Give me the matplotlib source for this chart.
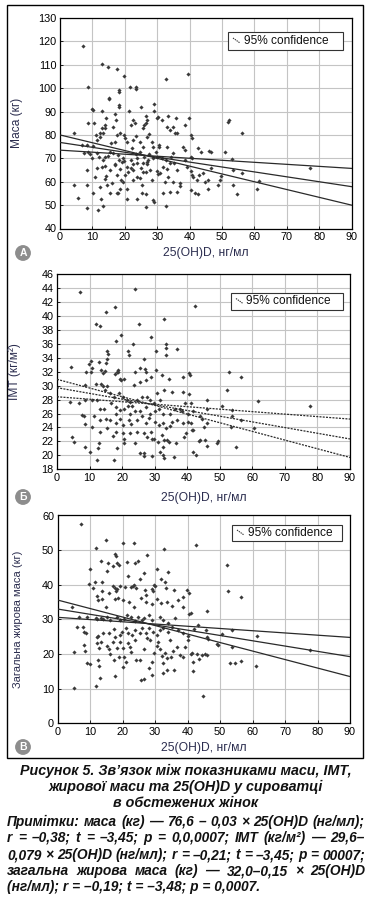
import matplotlib
matplotlib.use("Agg")
import matplotlib.pyplot as plt
from matplotlib.patches import Rectangle, Ellipse
from matplotlib.lines import Line2D

plt.rcParams['font.family'] = ['Liberation Sans', 'DejaVu Sans']

W, H = 372, 901

# ---------------- data ----------------
x_ticks = [0, 10, 20, 30, 40, 50, 60, 70, 80, 90]
yticks_A = list(range(40, 131, 10))
yticks_B = list(range(18, 47, 2))
yticks_C = list(range(0, 61, 10))

line_x = [0, 90]

# Panel A: mass (kg)
A_x = [7.0, 12.9, 14.7, 17.5, 19.9, 8.7, 21.6, 23.5, 23.4, 18.1, 18.3, 15.0, 15.2, 39.6, 32.6,
       10.0, 10.3, 13.0, 18.3, 18.3, 21.4, 29.0, 29.0, 25.0, 8.7, 10.6, 14.2, 17.0, 17.3, 16.5,
       14.0, 13.4, 12.3, 11.3, 8.4, 4.3, 6.7, 10.1, 11.1, 22.4, 23.1, 21.9, 25.5, 26.0, 26.7,
       27.0, 26.4, 29.8, 30.3, 31.4, 33.2, 35.8, 32.9, 35.0, 34.0, 36.0, 35.5, 38.6, 39.9, 40.6,
       40.8, 38.0, 38.6, 52.0, 52.3, 56.3, 40.3, 40.9, 42.7, 43.5, 46.0, 46.5, 50.9, 53.2, 38.6,
       39.1, 40.5, 40.8, 41.0, 43.0, 44.2, 46.5, 44.8, 45.8, 48.9, 49.4, 49.6, 53.3, 56.3, 53.3,
       54.7, 61.4, 60.7, 77.2, 42.2, 40.6, 41.7, 42.5, 45.8, 37.0, 37.2, 34.8, 33.4, 32.4, 31.9,
       34.0, 36.0, 32.6, 28.8, 29.0, 26.7, 25.2, 26.7, 23.9, 20.6, 20.6, 18.5, 18.0, 16.0, 14.4,
       12.3, 10.8, 10.1, 8.4, 4.3, 5.5, 12.7, 8.4, 11.6, 13.4, 8.4, 11.5, 12.9, 13.4, 14.0,
       12.0, 11.3, 14.0, 14.2, 14.0, 15.4, 17.0, 17.5, 18.5, 18.8, 19.5, 20.1, 20.6, 21.1, 21.8,
       22.4, 22.6, 22.6, 23.7, 25.0, 25.5, 24.7, 25.2, 26.6, 26.8, 27.3, 27.8, 28.3, 30.0, 30.2,
       30.0, 30.7, 30.7, 30.9, 31.9, 32.7, 33.1, 34.0, 34.4, 35.0, 35.2, 36.0, 32.9, 28.8, 28.3,
       27.0, 27.4, 25.5, 24.7, 23.5, 23.7, 22.1, 20.6, 20.2, 19.8, 18.5, 17.5, 17.0, 15.9, 15.4,
       14.9, 16.5, 18.0, 18.3, 19.6, 19.8, 19.0, 17.0, 22.4, 23.5, 24.7, 27.0, 27.6, 28.8, 29.6,
       31.4, 9.8, 7.5, 8.7, 9.3, 12.9, 14.0, 12.3, 25.7, 26.0, 22.0, 23.9, 17.5, 15.4]
A_y = [118.1, 110.4, 109.0, 108.1, 105.0, 100.4, 100.4, 99.6, 100.3, 98.5, 99.4, 96.0, 95.3, 106.1, 104.1,
       91.0, 90.5, 90.3, 92.7, 92.0, 90.4, 93.1, 90.3, 92.0, 85.3, 85.3, 87.1, 89.0, 86.4, 83.6,
       82.9, 81.0, 80.7, 78.0, 75.7, 80.7, 75.7, 75.3, 80.0, 86.4, 85.3, 84.3, 82.9, 84.3, 85.3,
       86.4, 88.0, 87.1, 87.6, 86.4, 87.9, 87.1, 83.3, 83.6, 82.1, 80.7, 80.7, 84.3, 87.1, 80.0,
       78.6, 75.0, 73.6, 85.6, 86.5, 80.7, 70.4, 70.1, 74.6, 72.9, 73.0, 72.6, 72.7, 69.6, 69.3,
       66.4, 64.4, 63.0, 62.0, 62.9, 63.6, 65.7, 60.0, 60.7, 58.6, 60.7, 62.6, 65.0, 63.6, 58.6,
       54.7, 60.4, 56.7, 65.7, 60.7, 56.4, 55.3, 54.7, 56.7, 59.6, 58.0, 60.0, 62.1, 60.0, 55.0,
       55.7, 55.7, 49.6, 52.0, 51.3, 49.3, 55.0, 54.6, 52.4, 52.4, 56.7, 56.7, 55.3, 59.6, 58.6,
       57.9, 62.1, 55.3, 58.6, 58.6, 52.9, 52.4, 48.6, 47.9, 49.7, 65.0, 65.7, 66.4, 69.3, 70.7,
       70.7, 72.4, 66.7, 62.5, 61.3, 65.0, 67.4, 62.9, 65.3, 60.7, 60.0, 62.9, 66.4, 64.3, 69.3,
       67.6, 65.0, 60.7, 62.1, 65.7, 64.3, 61.4, 58.6, 64.3, 67.4, 69.3, 65.0, 60.7, 64.5, 63.4,
       70.7, 75.0, 75.9, 63.6, 66.4, 69.3, 65.3, 67.9, 70.7, 72.1, 67.9, 65.0, 75.0, 75.0, 77.1,
       79.0, 80.4, 75.0, 72.9, 71.7, 70.3, 74.3, 76.9, 78.6, 80.0, 80.7, 80.0, 77.1, 76.4, 72.9,
       71.0, 72.1, 71.5, 69.4, 70.0, 68.9, 68.6, 67.1, 77.9, 79.6, 77.1, 68.6, 71.9, 70.0, 72.9,
       70.0, 70.0, 72.1, 72.9, 71.9, 82.9, 84.3, 79.3, 67.9, 70.7, 66.0, 68.0, 55.0, 55.0]
A_fit = [76.8, 57.9]
A_ci1 = [80.0, 50.0]
A_ci2 = [73.5, 65.7]

# Panel B: BMI (kg/m2)
B_x = [7.2, 24.0, 42.5, 12.1, 13.3, 15.1, 17.7, 25.1, 33.0, 19.7, 28.9, 23.4, 33.4, 33.4, 18.0,
       37.0, 21.7, 22.2, 15.5, 15.7, 10.3, 10.7, 10.5, 15.3, 14.9, 12.9, 30.3, 33.4, 26.6, 4.3,
       9.0, 13.5, 14.7, 14.1, 18.6, 18.7, 17.7, 18.4, 20.7, 19.2, 19.7, 24.0, 25.4, 27.0, 27.3,
       23.5, 25.5, 27.4, 28.8, 30.5, 32.2, 34.4, 38.6, 40.4, 40.9, 52.8, 56.5, 52.2, 61.7, 77.7,
       9.7, 8.6, 11.9, 13.4, 14.2, 14.6, 15.3, 16.4, 17.4, 19.1, 20.4, 21.5, 22.5, 23.0, 21.8,
       24.5, 26.1, 27.6, 28.6, 29.7, 30.7, 31.7, 33.0, 35.3, 38.6, 40.6, 41.1, 39.4, 37.8, 46.0,
       50.6, 53.7, 3.9, 6.7, 8.5, 10.7, 7.7, 8.4, 12.3, 13.3, 14.3, 16.7, 18.2, 19.4, 18.2,
       20.7, 22.5, 24.0, 25.6, 27.3, 28.6, 30.2, 31.4, 32.7, 34.8, 36.3, 38.3, 40.1, 41.9, 44.0,
       46.0, 53.7, 56.5, 8.7, 10.7, 11.5, 13.3, 14.9, 16.4, 18.2, 19.2, 20.4, 22.0, 22.8, 24.5,
       26.1, 27.4, 28.3, 30.2, 31.4, 32.5, 33.4, 34.6, 35.3, 37.0, 38.6, 40.1, 41.1, 44.4, 45.0,
       46.0, 53.4, 60.6, 13.3, 15.3, 17.3, 18.2, 20.2, 20.7, 22.5, 24.5, 26.6, 27.6, 28.8, 29.7,
       32.2, 33.0, 33.7, 36.6, 38.9, 39.6, 41.4, 41.9, 43.5, 44.0, 45.5, 46.2, 49.1, 49.6, 55.0,
       4.6, 5.3, 8.7, 12.9, 12.6, 18.4, 20.7, 24.0, 29.1, 31.0, 32.7, 34.4, 10.0, 25.4, 26.6,
       26.8, 29.1, 31.5, 32.7, 32.9, 35.8, 41.7, 42.7, 12.3, 17.4]
B_y = [43.4, 43.9, 41.4, 38.9, 38.6, 40.6, 41.2, 38.9, 39.6, 37.2, 36.9, 36.0, 35.9, 35.4, 36.4,
       35.2, 34.9, 34.4, 35.0, 34.5, 33.5, 32.5, 32.0, 33.8, 33.3, 33.4, 35.0, 34.4, 33.8, 32.6,
       32.0, 32.2, 32.1, 31.8, 32.3, 32.0, 31.7, 31.9, 31.0, 31.0, 30.8, 32.0, 32.5, 32.4, 32.0,
       30.1, 30.5, 30.8, 31.3, 32.3, 31.5, 31.0, 31.3, 31.8, 31.5, 32.0, 31.3, 29.4, 27.8, 27.1,
       33.1, 30.1, 30.2, 30.2, 29.9, 29.3, 29.9, 28.9, 28.4, 29.0, 28.4, 27.9, 27.6, 27.1, 27.1,
       27.9, 28.4, 28.3, 27.9, 27.5, 28.9, 27.9, 29.4, 29.1, 29.1, 28.8, 27.5, 27.5, 26.7, 27.9,
       27.1, 26.5, 27.6, 27.5, 28.0, 27.9, 25.8, 25.6, 28.0, 26.6, 26.7, 27.5, 27.0, 26.5, 26.0,
       26.7, 26.0, 26.3, 26.4, 27.0, 25.9, 26.3, 26.6, 26.0, 26.0, 26.7, 26.3, 26.0, 26.3, 25.6,
       26.7, 25.6, 25.0, 24.5, 24.1, 25.6, 25.1, 25.2, 25.1, 24.6, 25.2, 24.4, 25.1, 24.5, 25.1,
       25.6, 24.6, 25.3, 24.8, 24.4, 24.6, 23.9, 24.2, 24.8, 25.1, 24.6, 24.8, 24.6, 25.2, 24.1,
       24.6, 24.1, 23.9, 23.3, 23.9, 22.8, 23.4, 23.2, 22.4, 23.2, 23.3, 23.2, 22.7, 23.4, 22.4,
       22.9, 22.2, 22.2, 21.7, 22.7, 23.2, 23.6, 23.6, 22.0, 22.2, 22.2, 21.3, 21.8, 22.0, 21.2,
       22.7, 21.9, 21.2, 21.8, 21.0, 21.0, 21.7, 21.8, 22.4, 21.9, 21.2, 21.9, 20.5, 20.4, 20.3,
       19.9, 19.9, 20.5, 20.0, 19.6, 19.8, 20.5, 20.1, 19.3, 19.4]
B_fit = [29.7, 22.35]
B_ci1 = [30.9, 19.7]
B_ci2 = [28.4, 25.2]

# Panel C: total fat mass (kg)
C_x = [7.3, 15.0, 20.1, 23.6, 32.9, 42.5, 11.8, 17.7, 17.9, 13.4, 18.3, 18.8, 15.5, 21.5, 23.9,
       24.9, 27.4, 30.7, 33.9, 52.3, 10.0, 15.2, 17.2, 26.6, 21.8, 25.4, 31.7, 33.1, 29.7, 29.9,
       9.8, 11.6, 13.6, 10.8, 13.6, 17.2, 17.6, 18.0, 18.4, 19.3, 20.8, 22.5, 23.1, 23.6, 24.2,
       26.9, 29.0, 29.3, 33.3, 35.9, 39.9, 40.6, 52.6, 56.4, 12.1, 13.8, 15.9, 17.7, 18.7, 20.1,
       22.1, 23.4, 25.8, 27.1, 27.1, 29.0, 30.5, 31.9, 33.6, 35.1, 37.2, 38.5, 38.7, 40.6, 41.0,
       46.1, 4.4, 12.6, 15.0, 11.8, 12.3, 9.2, 6.5, 13.4, 13.9, 15.2, 16.2, 18.2, 19.3, 20.6,
       21.5, 22.6, 23.9, 24.9, 25.9, 26.6, 28.0, 29.0, 31.4, 32.6, 34.1, 36.2, 6.1, 7.8, 8.2,
       8.8, 12.6, 13.4, 13.9, 15.7, 17.4, 17.7, 19.1, 19.9, 21.1, 21.8, 22.8, 23.9, 25.4, 25.9,
       27.3, 28.3, 29.5, 30.5, 31.6, 32.6, 34.1, 35.1, 37.2, 38.7, 40.3, 42.0, 45.7, 46.1, 46.3,
       43.3, 50.5, 53.8, 49.2, 49.4, 53.6, 61.5, 77.7, 5.1, 8.3, 8.5, 9.2, 10.0, 12.3, 12.1,
       12.9, 12.6, 12.8, 13.1, 15.2, 15.7, 16.2, 17.2, 18.2, 18.8, 17.4, 19.1, 20.1, 20.5, 20.3,
       17.7, 21.1, 21.8, 22.3, 22.6, 23.9, 24.2, 25.4, 25.6, 26.6, 26.6, 27.5, 28.3, 29.0, 29.0,
       29.7, 30.5, 31.0, 31.6, 32.1, 32.4, 32.6, 33.1, 33.6, 33.8, 34.8, 35.6, 35.9, 36.7, 37.7,
       38.7, 39.2, 41.0, 41.3, 41.8, 41.6, 43.0, 43.6, 44.4, 45.4, 46.1, 44.7, 53.1, 54.6, 56.4,
       61.0, 5.2, 11.8, 40.3, 34.6, 28.5]
C_y = [57.5, 53.0, 52.0, 52.0, 50.3, 51.5, 50.6, 49.0, 48.4, 47.0, 46.2, 45.6, 46.4, 46.7, 46.2,
       46.9, 48.6, 44.5, 43.8, 45.6, 44.5, 44.0, 45.3, 43.5, 42.4, 41.6, 41.7, 40.9, 40.0, 39.6,
       40.3, 40.9, 40.9, 39.2, 38.1, 39.6, 39.0, 38.3, 38.7, 39.7, 39.3, 39.3, 39.7, 40.0, 39.0,
       38.5, 38.7, 38.1, 39.0, 38.5, 38.5, 37.6, 38.3, 36.4, 36.8, 35.8, 37.6, 35.8, 36.1, 35.6,
       35.1, 33.7, 36.1, 37.1, 35.1, 34.5, 35.8, 34.7, 34.9, 33.9, 35.6, 36.6, 33.5, 31.6, 31.8,
       32.3, 33.7, 35.6, 33.7, 30.5, 30.1, 30.8, 30.6, 30.5, 30.0, 30.6, 29.8, 30.6, 29.7, 30.0,
       31.3, 30.8, 29.4, 30.8, 29.8, 30.3, 31.3, 29.8, 30.8, 29.7, 29.1, 30.3, 27.9, 27.9, 26.5,
       26.0, 25.2, 23.6, 26.2, 26.0, 27.1, 25.0, 25.5, 26.5, 27.4, 26.0, 25.5, 26.8, 26.0, 27.4,
       26.2, 27.4, 26.5, 25.5, 27.0, 27.4, 26.5, 27.9, 27.0, 26.0, 25.2, 27.1, 26.9, 24.9, 24.3,
       28.4, 25.8, 27.0, 23.0, 22.6, 22.0, 25.2, 21.2, 20.5, 22.6, 20.9, 17.3, 17.0, 25.0, 23.3,
       21.7, 18.3, 16.6, 13.2, 22.3, 21.4, 20.0, 23.6, 21.7, 19.2, 18.3, 23.6, 21.7, 19.2, 16.4,
       13.7, 17.8, 23.1, 22.1, 20.7, 24.1, 18.3, 18.3, 12.5, 21.4, 12.7, 24.5, 15.9, 17.8, 14.0,
       20.2, 22.3, 23.6, 21.4, 19.4, 17.3, 14.6, 20.4, 18.8, 15.4, 19.2, 21.0, 15.4, 22.1, 19.7,
       19.2, 22.1, 20.0, 20.4, 17.8, 15.2, 20.0, 18.5, 19.7, 20.0, 19.7, 8.0, 17.5, 17.5, 18.1,
       16.6, 10.1, 10.8, 24.1, 24.1, 24.1]
C_fit = [33.0, 19.25]
C_ci1 = [35.6, 13.5]
C_ci2 = [30.6, 24.8]

panel_letters = ["A", "Б", "В"]
ylabels = ["Маса (кг)", "ІМТ (кг/м²)", "Загальна жирова маса (кг)"]
xlabel = "25(OH)D, нг/мл"
legend_text = "95% confidence"

caption = ["Рисунок 5. Зв’язок між показниками маси, ІМТ,",
           "жирової маси та 25(OH)D у сироватці",
           "в обстежених жінок"]
notes = ["Примітки: маса (кг) — 76,6 – 0,03 × 25(OH)D (нг/мл);",
         "r = –0,38; t = –3,45; p = 0,0,0007; ІМТ (кг/м²) — 29,6–",
         "0,079 × 25(OH)D (нг/мл); r = –0,21; t = –3,45; p = 00007;",
         "загальна жирова маса (кг) — 32,0–0,15 × 25(OH)D",
         "(нг/мл); r = –0,19; t = –3,48; p = 0,0007."]

# ---------------- layout helpers ----------------
fig = plt.figure(figsize=(W / 100, H / 100), dpi=100)


def fx(px):
    return px / W


def fy(py):
    return 1 - py / H


def add_axes_px(l, t, r, b):
    return fig.add_axes([fx(l), fy(b), fx(r) - fx(l), fy(t) - fy(b)])


# outer border box
fig.add_artist(Rectangle((fx(7), fy(758)), fx(363) - fx(7), fy(5) - fy(758),
                         transform=fig.transFigure, fill=False, ec='black', lw=1.0))

panels = [
    dict(box=(60, 18, 351.5, 228.5), x=A_x, y=A_y, fit=A_fit, ci=(A_ci1, A_ci2),
         ylim=(40, 130), yticks=yticks_A, ls='-', leg=(228, 32, 343, 50),
         ylab_x=17, xlab_y=253, circ_y=253),
    dict(box=(57, 274, 350, 469.3), x=B_x, y=B_y, fit=B_fit, ci=(B_ci1, B_ci2),
         ylim=(18, 46), yticks=yticks_B, ls=(0, (1.6, 1.0)), leg=(231, 293, 343, 310),
         ylab_x=15, xlab_y=498, circ_y=497),
    dict(box=(57.5, 515.5, 350, 723.3), x=C_x, y=C_y, fit=C_fit, ci=(C_ci1, C_ci2),
         ylim=(0, 60), yticks=yticks_C, ls='-', leg=(232, 525, 342, 541),
         ylab_x=18, xlab_y=748, circ_y=747),
]

tick_fs = 7.8
label_color = '#2b2d4f'
pt_color = '#3a3a3a'

for i, p in enumerate(panels):
    l, t, r, b = p['box']
    ax = add_axes_px(l, t, r, b)
    ax.set_xlim(0, 90)
    ax.set_ylim(*p['ylim'])
    ax.set_xticks(x_ticks)
    ax.set_yticks(p['yticks'])
    ax.grid(True, color='#c4c4c4', lw=0.8)
    ax.set_axisbelow(True)
    ax.tick_params(direction='in', length=2, width=0.6, labelsize=tick_fs, pad=2.5,
                   colors='black')
    for s in ax.spines.values():
        s.set_linewidth(0.9)
        s.set_color('black')
    ax.scatter(p['x'], p['y'], s=4.5, marker='D', color=pt_color, linewidths=0, zorder=3)
    lc = '#2a2a2a'
    ax.plot(line_x, p['fit'], color=lc, lw=0.9, ls=p['ls'], zorder=4)
    ax.plot(line_x, p['ci'][0], color=lc, lw=0.9, ls=p['ls'], zorder=4)
    ax.plot(line_x, p['ci'][1], color=lc, lw=0.9, ls=p['ls'], zorder=4)

    # y label
    ylab_fs = 8.6 if i < 2 else 8.0
    fig.text(fx(p['ylab_x']), fy((t + b) / 2), ylabels[i], rotation=90,
             ha='center', va='center', fontsize=ylab_fs, color=label_color)
    # x label
    fig.text(fx((l + r) / 2), fy(p['xlab_y']), xlabel, ha='center', va='center',
             fontsize=8.7, color=label_color)
    # panel letter circle
    cx, cy = 23, p['circ_y']
    fig.add_artist(Ellipse((fx(cx), fy(cy)), 14.4 / W, 14.4 / H, transform=fig.transFigure,
                           color='#8d8d8d', zorder=5))
    fig.text(fx(cx), fy(cy), panel_letters[i], ha='center', va='center', fontsize=7.5,
             color='white', fontweight='bold', zorder=6)

    # legend box
    lx0, ly0, lx1, ly1 = p['leg']
    fig.add_artist(Rectangle((fx(lx0), fy(ly1)), fx(lx1) - fx(lx0), fy(ly0) - fy(ly1),
                             transform=fig.transFigure, fc='white', ec='#333333', lw=0.8,
                             zorder=7))
    ym = (ly0 + ly1) / 2
    fig.add_artist(Line2D([fx(lx0 + 5), fx(lx0 + 12)], [fy(ym - 3), fy(ym + 2)],
                          transform=fig.transFigure, color='#333333', lw=0.8,
                          ls=(0, (1.2, 0.8)), zorder=8))
    fig.text(fx(lx0 + 15.5), fy(ym), legend_text, ha='left', va='center', fontsize=8.6,
             color='#111111', zorder=8)

# caption
cap_y = [771, 787, 803]
for s, yy in zip(caption, cap_y):
    fig.text(0.5, fy(yy), s, ha='center', va='center', fontsize=10.3, fontweight='bold',
             fontstyle='italic', color='#111111')

# notes (justified)
note_y = [822, 838, 855, 871, 887]
note_fs = 9.9
renderer = fig.canvas.get_renderer()
left_px, right_px = 7, 365
for k, (s, yy) in enumerate(zip(notes, note_y)):
    words = s.split(' ')
    if k == len(notes) - 1:
        fig.text(fx(left_px), fy(yy), s, ha='left', va='center', fontsize=note_fs,
                 fontweight='bold', fontstyle='italic', color='#111111')
        continue
    arts = []
    widths = []
    for w_ in words:
        tt = fig.text(0, 0, w_, ha='left', va='center', fontsize=note_fs, fontweight='bold',
                      fontstyle='italic', color='#111111')
        bb = tt.get_window_extent(renderer)
        arts.append(tt)
        widths.append(bb.width)
    gap = (right_px - left_px - sum(widths)) / (len(words) - 1)
    xcur = left_px
    for tt, wd in zip(arts, widths):
        tt.set_position((fx(xcur), fy(yy)))
        xcur += wd + gap

fig.savefig('out.png', dpi=100)
